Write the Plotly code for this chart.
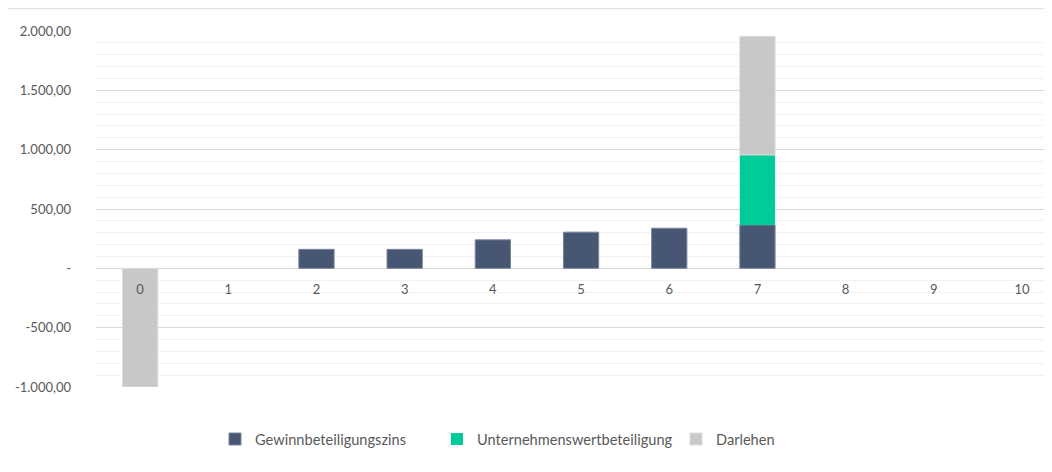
import plotly.graph_objects as go

categories = ["0", "1", "2", "3", "4", "5", "6", "7", "8", "9", "10"]
gewinn = [None, None, 160, 160, 240, 305, 338, 365, None, None, None]
unternehmen = [None, None, None, None, None, None, None, 590, None, None, None]
darlehen = [-1000, None, None, None, None, None, None, 1000, None, None, None]

y_tickvals = [-1000, -500, 0, 500, 1000, 1500, 2000]
y_ticktext = ["-1.000,00", "-500,00", "-", "500,00", "1.000,00", "1.500,00", "2.000,00"]

FONT = "Lato"
TXT = "#595959"

fig = go.Figure()
fig.add_trace(go.Bar(x=categories, y=gewinn, name="Gewinnbeteiligungszins",
                     marker=dict(color="#475673", line=dict(color="#7a869c", width=1)),
                     legend="legend", showlegend=True))
fig.add_trace(go.Bar(x=categories, y=unternehmen, name="Unternehmenswertbeteiligung",
                     marker=dict(color="#00CC99", line=dict(width=0)),
                     legend="legend2", showlegend=True))
fig.add_trace(go.Bar(x=categories, y=darlehen, name="Darlehen",
                     marker=dict(color="#C8C8C8", line=dict(color="#dcdcdc", width=1)),
                     legend="legend3", showlegend=True))

OFF = 8  # page body margin
W, H = 1052 - OFF, 472 - OFF
L = 96 - OFF
T = 31 - OFF
B = H - (387 - OFF)
R = 0
pw, ph = W - L - R, H - T - B

def px_x(x):
    return (x - OFF - L) / pw

def px_y(y):
    return (H - B - (y - OFF)) / ph

leg_common = dict(orientation="h", yanchor="middle", xanchor="left",
                  font=dict(family=FONT, size=14.6, color=TXT),
                  bgcolor="rgba(0,0,0,0)", itemclick=False)

fig.update_layout(
    width=W, height=H,
    margin=dict(l=L, r=R, t=T, b=B, pad=0),
    paper_bgcolor="white", plot_bgcolor="white",
    barmode="relative", bargap=0.6,
    showlegend=True,
    font=dict(family=FONT, size=13, color=TXT),
    separators=",.",
    legend=dict(x=px_x(215), y=px_y(439), **leg_common),
    legend2=dict(x=px_x(437), y=px_y(439), **leg_common),
    legend3=dict(x=px_x(676), y=px_y(439), **leg_common),
    xaxis=dict(type="category", range=[-0.5, 10.34], anchor="free", position=1/3,
               showline=False, showgrid=False, ticks="", ticklabelstandoff=12,
               tickfont=dict(family=FONT, size=13, color=TXT), fixedrange=True),
    yaxis=dict(range=[-1000, 2000], tickvals=y_tickvals, ticktext=y_ticktext,
               showgrid=True, gridcolor="#d9d9d9", gridwidth=1,
               zeroline=True, zerolinecolor="#d9d9d9", zerolinewidth=1,
               minor=dict(dtick=100, showgrid=True, gridcolor="#f2f2f2", gridwidth=1),
               ticks="", ticklabelstandoff=24,
               tickfont=dict(family=FONT, size=13, color=TXT), fixedrange=True),
    shapes=[dict(type="line", xref="paper", yref="paper",
                 x0=px_x(8), x1=px_x(1052), y0=px_y(8.5), y1=px_y(8.5),
                 line=dict(color="#e3e3e3", width=1.5), layer="below")],
)

fig.write_html("out.html")
